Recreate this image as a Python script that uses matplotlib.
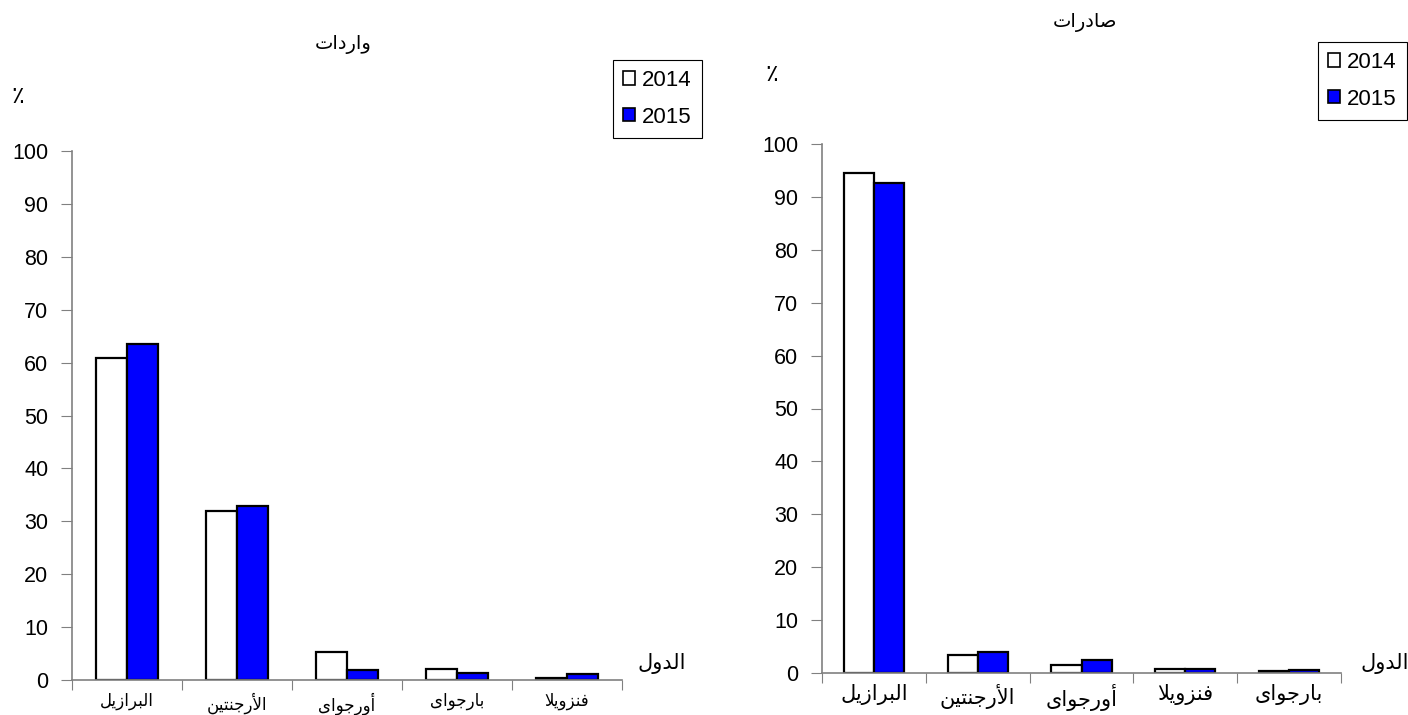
import matplotlib

matplotlib.use("Agg")
import matplotlib.pyplot as plt
import numpy as np
from matplotlib.patches import Patch

plt.rcParams["font.family"] = ["Liberation Sans", "DejaVu Sans"]

years = ["2014", "2015"]

imports_countries = ["البرازيل", "الأرجنتين", "أورجواى", "بارجواى", "فنزويلا"]
imports_2014 = [60.9, 32.0, 5.2, 2.1, 0.4]
imports_2015 = [63.5, 32.8, 1.8, 1.3, 1.1]

exports_countries = ["البرازيل", "الأرجنتين", "أورجواى", "فنزويلا", "بارجواى"]
exports_2014 = [94.6, 3.4, 1.5, 0.7, 0.3]
exports_2015 = [92.6, 4.0, 2.4, 0.7, 0.6]

y_ticks = list(range(0, 101, 10))

# matplotlib does no Arabic shaping, so pick presentation forms by hand
FORMS = {
    "ا": ("\ufe8d", "\ufe8e", None, None),
    "أ": ("\ufe83", "\ufe84", None, None),
    "ب": ("\ufe8f", "\ufe90", "\ufe91", "\ufe92"),
    "ت": ("\ufe95", "\ufe96", "\ufe97", "\ufe98"),
    "ج": ("\ufe9d", "\ufe9e", "\ufe9f", "\ufea0"),
    "د": ("\ufea9", "\ufeaa", None, None),
    "ر": ("\ufead", "\ufeae", None, None),
    "ز": ("\ufeaf", "\ufeb0", None, None),
    "ص": ("\ufeb9", "\ufeba", "\ufebb", "\ufebc"),
    "ف": ("\ufed1", "\ufed2", "\ufed3", "\ufed4"),
    "ل": ("\ufedd", "\ufede", "\ufedf", "\ufee0"),
    "ن": ("\ufee5", "\ufee6", "\ufee7", "\ufee8"),
    "و": ("\ufeed", "\ufeee", None, None),
    "ي": ("\ufef1", "\ufef2", "\ufef3", "\ufef4"),
    "ى": ("\ufeef", "\ufef0", None, None),
    "لا": ("\ufefb", "\ufefc", None, None),
    "لأ": ("\ufef7", "\ufef8", None, None),
}


def shape(word):
    units = []
    i = 0
    while i < len(word):
        pair = word[i:i + 2]
        if pair in FORMS:
            units.append(pair)
            i += 2
        else:
            units.append(word[i])
            i += 1
    out = []
    for k, u in enumerate(units):
        f = FORMS.get(u)
        if f is None:
            out.append(u)
            continue
        prev = FORMS.get(units[k - 1]) if k > 0 else None
        nxt = FORMS.get(units[k + 1]) if k + 1 < len(units) else None
        join_prev = prev is not None and prev[2] is not None
        join_next = nxt is not None and f[2] is not None
        if join_prev and join_next:
            out.append(f[3])
        elif join_prev:
            out.append(f[1])
        elif join_next:
            out.append(f[2])
        else:
            out.append(f[0])
    return "".join(reversed(out))


def draw(ax, countries, v14, v15, width, label_size, label_pad):
    x = np.arange(len(countries)) + 0.5
    ax.bar(x - width / 2, v14, width, color="white", edgecolor="black", linewidth=1.6)
    ax.bar(x + width / 2, v15, width, color="#0000ff", edgecolor="black", linewidth=1.6)
    ax.set_xlim(0, len(countries))
    ax.set_ylim(0, 100)
    ax.set_yticks(y_ticks)
    ax.set_xticks(np.arange(len(countries) + 1))
    ax.set_xticklabels([])
    ax.set_xticks(x, [shape(c) for c in countries], minor=True)
    ax.tick_params(axis="x", which="minor", length=0, pad=label_pad, labelsize=label_size)
    ax.tick_params(axis="x", which="major", length=7, color="#808080", direction="out")
    ax.tick_params(axis="y", length=8, color="#808080", labelsize=15.5, pad=9)
    for side in ("top", "right"):
        ax.spines[side].set_visible(False)
    for side in ("left", "bottom"):
        ax.spines[side].set_color("#808080")
        ax.spines[side].set_linewidth(1.2)


fig = plt.figure(figsize=(14.08, 7.15), dpi=100)

ax1 = fig.add_axes([72 / 1408, 35 / 715, 550 / 1408, 529 / 715])
draw(ax1, imports_countries, imports_2014, imports_2015, 0.28, 12, 9)
ax2 = fig.add_axes([822 / 1408, 42 / 715, 519 / 1408, 529 / 715])
draw(ax2, exports_countries, exports_2014, exports_2015, 0.29, 15, 8)

fig.text(343 / 1408, 1 - 45 / 715, shape("واردات"), ha="center", va="center", fontsize=14)
fig.text(1085 / 1408, 1 - 22 / 715, shape("صادرات"), ha="center", va="center", fontsize=14)
fig.text(18 / 1408, 1 - 97 / 715, "٪", ha="center", va="center", fontsize=17)
fig.text(772 / 1408, 1 - 75 / 715, "٪", ha="center", va="center", fontsize=17)
fig.text(662 / 1408, 1 - 664 / 715, shape("الدول"), ha="center", va="center", fontsize=15)
fig.text(1385 / 1408, 1 - 664 / 715, shape("الدول"), ha="center", va="center", fontsize=15)

handles = [Patch(facecolor="white", edgecolor="black", linewidth=1.2),
           Patch(facecolor="#0000ff", edgecolor="black", linewidth=1.2)]
for anchor in [(613 / 1408, 1 - 60 / 715), (1318 / 1408, 1 - 42 / 715)]:
    leg = fig.legend(handles, years, loc="upper left", bbox_to_anchor=anchor, fontsize=16,
                     fancybox=False, edgecolor="black", framealpha=1, handlelength=0.55,
                     handleheight=0.55, handletextpad=0.3, labelspacing=0.7,
                     borderpad=0.45, borderaxespad=0)
    leg.get_frame().set_linewidth(0.8)

fig.savefig("out.png", dpi=100)
